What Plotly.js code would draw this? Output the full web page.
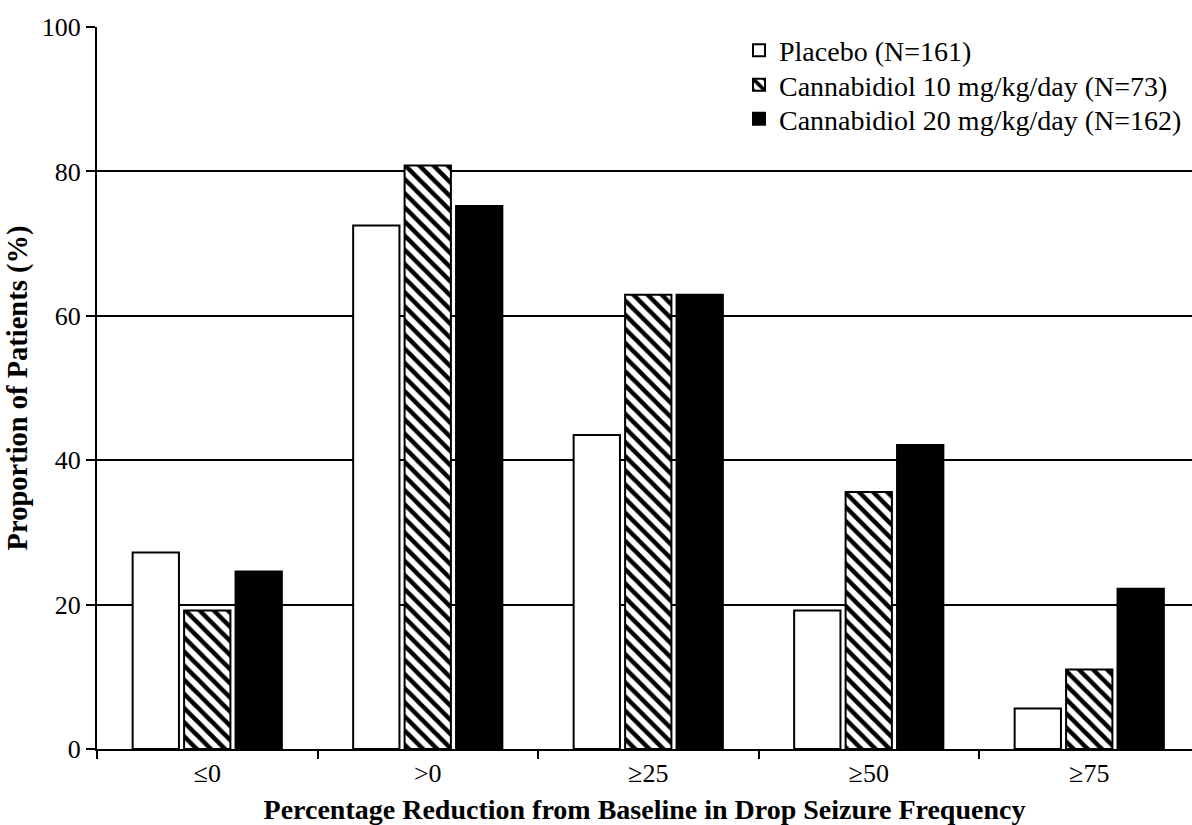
<!DOCTYPE html>
<html>
<head>
<meta charset="utf-8">
<script src="https://cdn.plot.ly/plotly-3.0.1.min.js"></script>
<style>
html, body { margin: 0; padding: 0; background: #fff; }
#chart { width: 1192px; height: 825px; }
</style>
</head>
<body>
<div id="chart"></div>
<script>
const categories = ["\u22640", ">0", "\u226525", "\u226550", "\u226575"];
const placebo = [27.2, 72.5, 43.5, 19.2, 5.6];
const cbd10 = [19.2, 80.8, 62.9, 35.6, 11.0];
const cbd20 = [24.6, 75.2, 62.9, 42.1, 22.2];
const seriesNames = ["Placebo (N=161)", "Cannabidiol 10 mg/kg/day (N=73)", "Cannabidiol 20 mg/kg/day (N=162)"];
const yTicks = [0, 20, 40, 60, 80, 100];

const FONT = "Liberation Serif";
const outline = { color: "#000", width: 2 };

const traces = [
  {
    type: "bar", name: seriesNames[0], x: categories, y: placebo, legend: "legend",
    marker: { color: "#fff", line: outline }
  },
  {
    type: "bar", name: seriesNames[1], x: categories, y: cbd10, legend: "legend2",
    marker: { color: "#fff", line: outline,
      pattern: { shape: "\\", bgcolor: "#fff", fgcolor: "#000", size: 10, solidity: 0.45 } }
  },
  {
    type: "bar", name: seriesNames[2], x: categories, y: cbd20, legend: "legend3",
    marker: { color: "#000", line: outline }
  }
];

function legendAt(yPx) {
  return {
    x: (739 - 97) / 1095, y: (749 - yPx) / 722, xanchor: "left", yanchor: "middle",
    bgcolor: "rgba(0,0,0,0)", borderwidth: 0,
    font: { family: FONT, size: 28, color: "#000" }
  };
}

const layout = {
  width: 1192, height: 825,
  margin: { l: 97, r: 0, t: 27, b: 76, pad: 0 },
  paper_bgcolor: "#fff", plot_bgcolor: "#fff",
  font: { family: FONT, size: 26, color: "#000" },
  barmode: "group", bargap: 0.3, bargroupgap: 0.1,
  showlegend: true,
  legend: legendAt(50.5),
  legend2: legendAt(85),
  legend3: legendAt(119),
  xaxis: {
    type: "category", range: [-0.5, 4.466],
    showline: true, linecolor: "#000", linewidth: 2,
    ticks: "outside", tickson: "boundaries", ticklen: 8, tickwidth: 2, tickcolor: "#000",
    showgrid: false, zeroline: false,
    tickfont: { family: FONT, size: 26 },
    title: { text: "<b>Percentage Reduction from Baseline in Drop Seizure Frequency</b>",
      font: { family: FONT, size: 28 }, standoff: 14 }
  },
  yaxis: {
    range: [0, 100], tickvals: yTicks, ticktext: yTicks.map(String),
    showline: true, linecolor: "#000", linewidth: 2,
    ticks: "outside", ticklen: 9, tickwidth: 2, tickcolor: "#000",
    showgrid: true, gridcolor: "#000", gridwidth: 2, zeroline: false,
    tickfont: { family: FONT, size: 26 },
    title: { text: "<b>Proportion of Patients (%)</b>", font: { family: FONT, size: 28.5 }, standoff: 6 }
  }
};

Plotly.newPlot("chart", traces, layout, { staticPlot: true, displayModeBar: false });
</script>
</body>
</html>
